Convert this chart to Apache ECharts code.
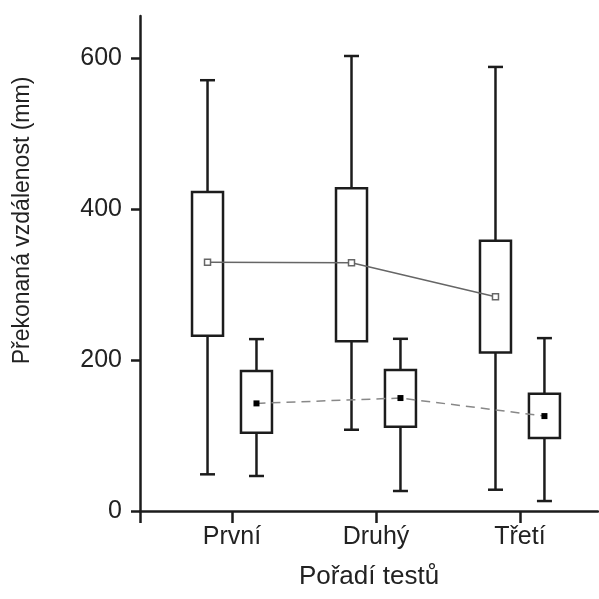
<!DOCTYPE html>
<html>
<head>
<meta charset="utf-8">
<script src="https://cdn.jsdelivr.net/npm/echarts@6/dist/echarts.min.js"></script>
<style>
html, body { margin:0; padding:0; background:#fff; }
#chart { width:599px; height:599px; }
</style>
</head>
<body>
<div id="chart"></div>
<script>
// kategorie na ose x
var categories = ['První', 'Druhý', 'Třetí'];
var catPos = [1, 2, 3];

// velky box (prazdny ctverec = prumer)
var aMin = [48.6, 107.7, 28.2];
var aQ1 = [232.2, 224.8, 210.2];
var aQ3 = [422.9, 427.8, 358.0];
var aMax = [570.9, 603.0, 588.5];
var aMean = [329.8, 328.9, 283.8];

// maly box (plny ctverec = prumer)
var bMin = [46.4, 26.5, 13.2];
var bQ1 = [103.7, 111.7, 96.7];
var bQ3 = [185.4, 186.8, 155.4];
var bMax = [227.8, 228.2, 229.1];
var bMean = [142.6, 149.7, 125.8];

var yTicks = [0, 200, 400, 600];

var shift = 0.17;   // posun boxu od stredu kategorie
var xMin = 0.361, xMax = 3.542;

var font = "'Liberation Sans', Arial, sans-serif";

buildRows = function(off, mn, q1, q3, mx){
	var rows = [];
	for(var i=0;i<catPos.length;i++)
	{
		rows.push([catPos[i] + off, mn[i], q1[i], q3[i], mx[i]]);
	}
	return rows;
}

buildMean = function(off, mean){
	var rows = [];
	for(var i=0;i<catPos.length;i++)
	{
		rows.push([catPos[i] + off, mean[i]]);
	}
	return rows;
}

renderBox = function(params, api){
	var x = api.value(0);
	var lo = api.coord([x, api.value(1)]);
	var q1 = api.coord([x, api.value(2)]);
	var q3 = api.coord([x, api.value(3)]);
	var hi = api.coord([x, api.value(4)]);
	var bw = 31, cw = 15;
	var st = {stroke:'#1c1c1c', lineWidth:2.5, fill:null};
	return {
		type:'group',
		children:[
			{type:'line', shape:{x1:hi[0], y1:hi[1], x2:q3[0], y2:q3[1]}, style:st},
			{type:'line', shape:{x1:q1[0], y1:q1[1], x2:lo[0], y2:lo[1]}, style:st},
			{type:'line', shape:{x1:hi[0]-cw/2, y1:hi[1], x2:hi[0]+cw/2, y2:hi[1]}, style:st},
			{type:'line', shape:{x1:lo[0]-cw/2, y1:lo[1], x2:lo[0]+cw/2, y2:lo[1]}, style:st},
			{type:'rect', shape:{x:q3[0]-bw/2, y:q3[1], width:bw, height:q1[1]-q3[1]},
				style:{stroke:'#1c1c1c', lineWidth:2.5, fill:'#fff'}}
		]
	};
}

var myChart = echarts.init(document.getElementById('chart'));

option = {
	animation: false,
	backgroundColor: '#fff',
	grid: { left:140, right:1, top:16, bottom:88 },
	xAxis: {
		type: 'value',
		min: xMin,
		max: xMax,
		name: 'Pořadí testů',
		nameLocation: 'middle',
		nameGap: 53,
		nameTextStyle: { fontFamily:font, fontSize:26, color:'#222' },
		splitLine: { show:false },
		axisLine: { show:true, lineStyle:{ color:'#1c1c1c', width:2.5 } },
		axisTick: { show:true, length:12, customValues:[xMin].concat(catPos), lineStyle:{ color:'#1c1c1c', width:2.5 } },
		axisLabel: {
			customValues: catPos,
			margin: 14,
			fontFamily: font, fontSize: 25, color:'#222',
			formatter: function(v){ return categories[Math.round(v) - 1]; }
		}
	},
	yAxis: {
		type: 'value',
		min: 0,
		max: 656,
		name: 'Překonaná vzdálenost (mm)',
		nameLocation: 'middle',
		nameGap: 106,
		nameTextStyle: { fontFamily:font, fontSize:23, color:'#222', padding:[0,0,0,86] },
		splitLine: { show:false },
		axisLine: { show:true, lineStyle:{ color:'#1c1c1c', width:2.5 } },
		axisTick: { show:true, length:9, customValues:yTicks, lineStyle:{ color:'#1c1c1c', width:2.5 } },
		axisLabel: { customValues:yTicks, margin:18, fontFamily:font, fontSize:25, color:'#222' }
	},
	series: [
		{
			type: 'custom',
			renderItem: renderBox,
			data: buildRows(-shift, aMin, aQ1, aQ3, aMax),
			z: 2
		},
		{
			type: 'custom',
			renderItem: renderBox,
			data: buildRows(shift, bMin, bQ1, bQ3, bMax),
			z: 2
		},
		{
			type: 'line',
			data: buildMean(-shift, aMean),
			symbol: 'rect',
			symbolSize: 6,
			itemStyle: { color:'#fff', borderColor:'#666', borderWidth:1.5 },
			lineStyle: { color:'#666', width:1.5, type:'solid' },
			z: 5
		},
		{
			type: 'line',
			data: buildMean(shift, bMean),
			symbol: 'rect',
			symbolSize: 6,
			itemStyle: { color:'#000', borderColor:'#000', borderWidth:0 },
			lineStyle: { color:'#888', width:1.5, type:[9,6] },
			z: 5
		}
	]
};

myChart.setOption(option, true);
</script>
</body>
</html>
